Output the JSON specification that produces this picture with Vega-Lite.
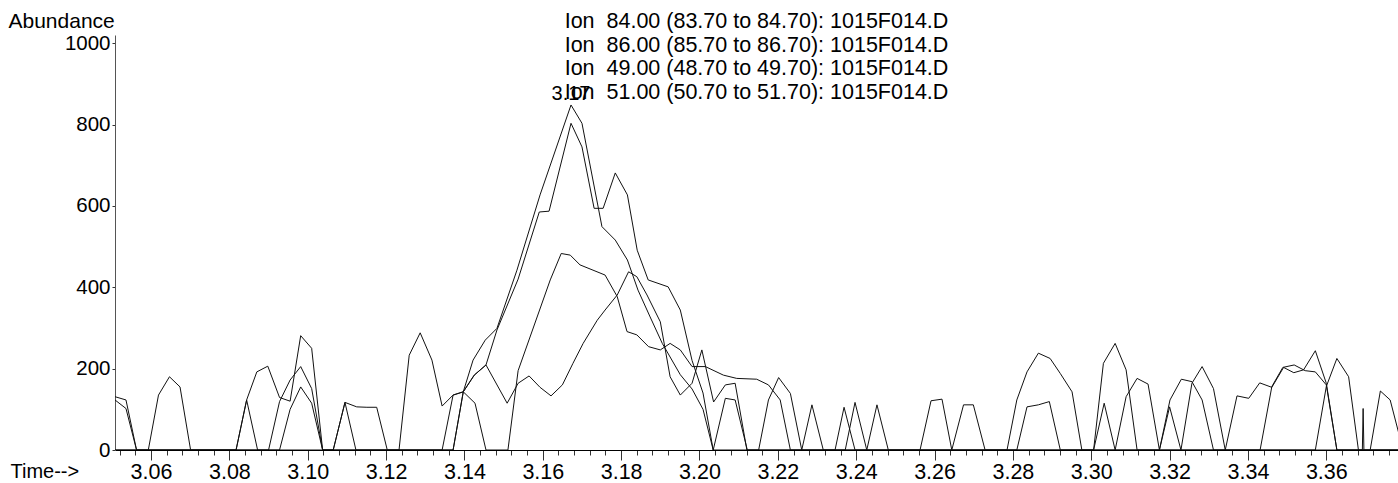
{
  "$schema": "https://vega.github.io/schema/vega-lite/v6.json",
  "autosize": "none",
  "width": 1283,
  "height": 415,
  "padding": {"left": 115, "top": 35, "right": 0, "bottom": 33},
  "background": "white",
  "title": {
    "text": ["Ion\u00a0 84.00 (83.70 to 84.70): 1015F014.D", "Ion\u00a0 86.00 (85.70 to 86.70): 1015F014.D", "Ion\u00a0 49.00 (48.70 to 49.70): 1015F014.D", "Ion\u00a0 51.00 (50.70 to 51.70): 1015F014.D"],
    "anchor": "middle",
    "font": "Liberation Sans",
    "fontSize": 21.5,
    "fontWeight": "normal",
    "color": "#000",
    "lineHeight": 23.5,
    "offset": -93
  },
  "datasets": {
    "traces": [
      {"ion":"84","t":3.0508,"v":131},{"ion":"84","t":3.0536,"v":123},{"ion":"84","t":3.0563,"v":0},{"ion":"84","t":3.0593,"v":0},{"ion":"84","t":3.0619,"v":135},{"ion":"84","t":3.0647,"v":180},{"ion":"84","t":3.0674,"v":155},{"ion":"84","t":3.0701,"v":0},{"ion":"84","t":3.0817,"v":0},{"ion":"84","t":3.0844,"v":123},{"ion":"84","t":3.0872,"v":0},{"ion":"84","t":3.0928,"v":0},{"ion":"84","t":3.0955,"v":100},{"ion":"84","t":3.0982,"v":155},{"ion":"84","t":3.1010,"v":115},{"ion":"84","t":3.1038,"v":0},{"ion":"84","t":3.1065,"v":0},{"ion":"84","t":3.1095,"v":117},{"ion":"84","t":3.1123,"v":0},{"ion":"84","t":3.1343,"v":0},{"ion":"84","t":3.1371,"v":135},{"ion":"84","t":3.1397,"v":143},{"ion":"84","t":3.1422,"v":221},{"ion":"84","t":3.1453,"v":270},{"ion":"84","t":3.1483,"v":299},{"ion":"84","t":3.1534,"v":442},{"ion":"84","t":3.1593,"v":627},{"ion":"84","t":3.1672,"v":848},{"ion":"84","t":3.1700,"v":803},{"ion":"84","t":3.1751,"v":549},{"ion":"84","t":3.1785,"v":516},{"ion":"84","t":3.1816,"v":467},{"ion":"84","t":3.1843,"v":393},{"ion":"84","t":3.1874,"v":327},{"ion":"84","t":3.1905,"v":262},{"ion":"84","t":3.1951,"v":185},{"ion":"84","t":3.1981,"v":150},{"ion":"84","t":3.2009,"v":100},{"ion":"84","t":3.2035,"v":0},{"ion":"84","t":3.2066,"v":127},{"ion":"84","t":3.2091,"v":123},{"ion":"84","t":3.2122,"v":0},{"ion":"84","t":3.2261,"v":0},{"ion":"84","t":3.2287,"v":111},{"ion":"84","t":3.2316,"v":0},{"ion":"84","t":3.2563,"v":0},{"ion":"84","t":3.2591,"v":121},{"ion":"84","t":3.2619,"v":125},{"ion":"84","t":3.2644,"v":0},{"ion":"84","t":3.2785,"v":0},{"ion":"84","t":3.2810,"v":123},{"ion":"84","t":3.2836,"v":192},{"ion":"84","t":3.2865,"v":238},{"ion":"84","t":3.2895,"v":225},{"ion":"84","t":3.2921,"v":188},{"ion":"84","t":3.2951,"v":143},{"ion":"84","t":3.2976,"v":0},{"ion":"84","t":3.3174,"v":0},{"ion":"84","t":3.3200,"v":106},{"ion":"84","t":3.3229,"v":0},{"ion":"84","t":3.3342,"v":0},{"ion":"84","t":3.3372,"v":133},{"ion":"84","t":3.3402,"v":127},{"ion":"84","t":3.3430,"v":165},{"ion":"84","t":3.3461,"v":154},{"ion":"84","t":3.3491,"v":203},{"ion":"84","t":3.3517,"v":190},{"ion":"84","t":3.3542,"v":197},{"ion":"84","t":3.3572,"v":244},{"ion":"84","t":3.3600,"v":164},{"ion":"84","t":3.3627,"v":0},{"ion":"84","t":3.3692,"v":0},{"ion":"84","t":3.3694,"v":102},{"ion":"84","t":3.3696,"v":0},{"ion":"84","t":3.3790,"v":0},

      {"ion":"86","t":3.0508,"v":123},{"ion":"86","t":3.0536,"v":102},{"ion":"86","t":3.0563,"v":0},{"ion":"86","t":3.0817,"v":0},{"ion":"86","t":3.0844,"v":123},{"ion":"86","t":3.0870,"v":192},{"ion":"86","t":3.0898,"v":206},{"ion":"86","t":3.0928,"v":129},{"ion":"86","t":3.0955,"v":120},{"ion":"86","t":3.0982,"v":281},{"ion":"86","t":3.1010,"v":250},{"ion":"86","t":3.1038,"v":0},{"ion":"86","t":3.1065,"v":0},{"ion":"86","t":3.1095,"v":117},{"ion":"86","t":3.1125,"v":106},{"ion":"86","t":3.1151,"v":105},{"ion":"86","t":3.1176,"v":105},{"ion":"86","t":3.1203,"v":0},{"ion":"86","t":3.1371,"v":0},{"ion":"86","t":3.1397,"v":143},{"ion":"86","t":3.1425,"v":184},{"ion":"86","t":3.1455,"v":209},{"ion":"86","t":3.1483,"v":295},{"ion":"86","t":3.1537,"v":420},{"ion":"86","t":3.1591,"v":585},{"ion":"86","t":3.1616,"v":587},{"ion":"86","t":3.1672,"v":803},{"ion":"86","t":3.1700,"v":745},{"ion":"86","t":3.1731,"v":594},{"ion":"86","t":3.1754,"v":594},{"ion":"86","t":3.1785,"v":681},{"ion":"86","t":3.1816,"v":627},{"ion":"86","t":3.1841,"v":491},{"ion":"86","t":3.1869,"v":418},{"ion":"86","t":3.1920,"v":401},{"ion":"86","t":3.1951,"v":344},{"ion":"86","t":3.1981,"v":220},{"ion":"86","t":3.2009,"v":140},{"ion":"86","t":3.2035,"v":0},{"ion":"86","t":3.2151,"v":0},{"ion":"86","t":3.2176,"v":123},{"ion":"86","t":3.2202,"v":178},{"ion":"86","t":3.2232,"v":139},{"ion":"86","t":3.2261,"v":0},{"ion":"86","t":3.2372,"v":0},{"ion":"86","t":3.2397,"v":117},{"ion":"86","t":3.2427,"v":0},{"ion":"86","t":3.2810,"v":0},{"ion":"86","t":3.2836,"v":106},{"ion":"86","t":3.2865,"v":111},{"ion":"86","t":3.2893,"v":119},{"ion":"86","t":3.2921,"v":0},{"ion":"86","t":3.3006,"v":0},{"ion":"86","t":3.3031,"v":213},{"ion":"86","t":3.3061,"v":262},{"ion":"86","t":3.3089,"v":197},{"ion":"86","t":3.3117,"v":0},{"ion":"86","t":3.3174,"v":0},{"ion":"86","t":3.3201,"v":123},{"ion":"86","t":3.3230,"v":174},{"ion":"86","t":3.3257,"v":168},{"ion":"86","t":3.3283,"v":123},{"ion":"86","t":3.3312,"v":0},{"ion":"86","t":3.3431,"v":0},{"ion":"86","t":3.3461,"v":156},{"ion":"86","t":3.3489,"v":203},{"ion":"86","t":3.3518,"v":209},{"ion":"86","t":3.3546,"v":195},{"ion":"86","t":3.3572,"v":192},{"ion":"86","t":3.3600,"v":160},{"ion":"86","t":3.3627,"v":0},{"ion":"86","t":3.3712,"v":0},{"ion":"86","t":3.3738,"v":145},{"ion":"86","t":3.3763,"v":123},{"ion":"86","t":3.3785,"v":41},{"ion":"86","t":3.3800,"v":0},

      {"ion":"49","t":3.0508,"v":0},{"ion":"49","t":3.0900,"v":0},{"ion":"49","t":3.0928,"v":119},{"ion":"49","t":3.0955,"v":172},{"ion":"49","t":3.0982,"v":205},{"ion":"49","t":3.1010,"v":151},{"ion":"49","t":3.1038,"v":0},{"ion":"49","t":3.1233,"v":0},{"ion":"49","t":3.1259,"v":233},{"ion":"49","t":3.1287,"v":288},{"ion":"49","t":3.1317,"v":221},{"ion":"49","t":3.1343,"v":108},{"ion":"49","t":3.1371,"v":135},{"ion":"49","t":3.1397,"v":143},{"ion":"49","t":3.1427,"v":115},{"ion":"49","t":3.1455,"v":0},{"ion":"49","t":3.1511,"v":0},{"ion":"49","t":3.1537,"v":195},{"ion":"49","t":3.1619,"v":418},{"ion":"49","t":3.1647,"v":483},{"ion":"49","t":3.1670,"v":479},{"ion":"49","t":3.1695,"v":455},{"ion":"49","t":3.1759,"v":430},{"ion":"49","t":3.1790,"v":377},{"ion":"49","t":3.1815,"v":291},{"ion":"49","t":3.1840,"v":283},{"ion":"49","t":3.1870,"v":254},{"ion":"49","t":3.1900,"v":246},{"ion":"49","t":3.1925,"v":262},{"ion":"49","t":3.1951,"v":246},{"ion":"49","t":3.1981,"v":205},{"ion":"49","t":3.2015,"v":205},{"ion":"49","t":3.2061,"v":184},{"ion":"49","t":3.2095,"v":176},{"ion":"49","t":3.2146,"v":174},{"ion":"49","t":3.2176,"v":160},{"ion":"49","t":3.2206,"v":123},{"ion":"49","t":3.2232,"v":0},{"ion":"49","t":3.2346,"v":0},{"ion":"49","t":3.2369,"v":105},{"ion":"49","t":3.2397,"v":0},{"ion":"49","t":3.2644,"v":0},{"ion":"49","t":3.2674,"v":111},{"ion":"49","t":3.2699,"v":111},{"ion":"49","t":3.2729,"v":0},{"ion":"49","t":3.3006,"v":0},{"ion":"49","t":3.3033,"v":115},{"ion":"49","t":3.3061,"v":0},{"ion":"49","t":3.3229,"v":0},{"ion":"49","t":3.3257,"v":164},{"ion":"49","t":3.3283,"v":205},{"ion":"49","t":3.3312,"v":151},{"ion":"49","t":3.3342,"v":0},{"ion":"49","t":3.3572,"v":0},{"ion":"49","t":3.3600,"v":156},{"ion":"49","t":3.3627,"v":225},{"ion":"49","t":3.3657,"v":180},{"ion":"49","t":3.3682,"v":0},{"ion":"49","t":3.3790,"v":0},

      {"ion":"51","t":3.0508,"v":0},{"ion":"51","t":3.1371,"v":0},{"ion":"51","t":3.1397,"v":143},{"ion":"51","t":3.1425,"v":184},{"ion":"51","t":3.1455,"v":209},{"ion":"51","t":3.1509,"v":115},{"ion":"51","t":3.1537,"v":164},{"ion":"51","t":3.1565,"v":182},{"ion":"51","t":3.1593,"v":154},{"ion":"51","t":3.1621,"v":133},{"ion":"51","t":3.1650,"v":160},{"ion":"51","t":3.1677,"v":213},{"ion":"51","t":3.1703,"v":262},{"ion":"51","t":3.1739,"v":319},{"ion":"51","t":3.1759,"v":344},{"ion":"51","t":3.1790,"v":381},{"ion":"51","t":3.1819,"v":438},{"ion":"51","t":3.1840,"v":426},{"ion":"51","t":3.1866,"v":381},{"ion":"51","t":3.1900,"v":315},{"ion":"51","t":3.1925,"v":180},{"ion":"51","t":3.1951,"v":135},{"ion":"51","t":3.1981,"v":164},{"ion":"51","t":3.2006,"v":246},{"ion":"51","t":3.2036,"v":118},{"ion":"51","t":3.2066,"v":160},{"ion":"51","t":3.2091,"v":164},{"ion":"51","t":3.2121,"v":0},{"ion":"51","t":3.2427,"v":0},{"ion":"51","t":3.2453,"v":111},{"ion":"51","t":3.2482,"v":0},{"ion":"51","t":3.3061,"v":0},{"ion":"51","t":3.3089,"v":131},{"ion":"51","t":3.3117,"v":176},{"ion":"51","t":3.3145,"v":162},{"ion":"51","t":3.3174,"v":0},{"ion":"51","t":3.3790,"v":0}
    ],
    "peaks": [{"t": 3.1672, "v": 848, "label": "3.17"}]
  },
  "encoding": {
    "x": {
      "field": "t", "type": "quantitative",
      "scale": {"domain": [3.0508, 3.3783], "nice": false, "zero": false},
      "axis": {
        "values": [3.052,3.056,3.060,3.064,3.068,3.072,3.076,3.080,3.084,3.088,3.092,3.096,3.100,3.104,3.108,3.112,3.116,3.120,3.124,3.128,3.132,3.136,3.140,3.144,3.148,3.152,3.156,3.160,3.164,3.168,3.172,3.176,3.180,3.184,3.188,3.192,3.196,3.200,3.204,3.208,3.212,3.216,3.220,3.224,3.228,3.232,3.236,3.240,3.244,3.248,3.252,3.256,3.260,3.264,3.268,3.272,3.276,3.280,3.284,3.288,3.292,3.296,3.300,3.304,3.308,3.312,3.316,3.320,3.324,3.328,3.332,3.336,3.340,3.344,3.348,3.352,3.356,3.360,3.364,3.368,3.372,3.376],
        "labelExpr": "abs(datum.value*50 - round(datum.value*50)) < 0.001 ? format(datum.value, '.2f') : ''",
        "tickSize": {"condition": {"test": "abs(datum.value*50 - round(datum.value*50)) < 0.001", "value": 10}, "value": 5},
        "labelPadding": 1,
        "labelOverlap": false,
        "labelBound": false,
        "labelFlush": false,
        "labelFont": "Liberation Sans",
        "labelFontSize": 21.5,
        "labelColor": "#000",
        "tickColor": "#333",
        "domainColor": "#000",
        "grid": false,
        "title": "Time-->",
        "titleFont": "Liberation Sans",
        "titleFontSize": 20,
        "titleFontWeight": "normal",
        "titleColor": "#000",
        "titleAlign": "left",
        "titleBaseline": "alphabetic",
        "titleX": -105,
        "titleY": 27
      }
    },
    "y": {
      "field": "v", "type": "quantitative",
      "scale": {"domain": [0, 1020], "nice": false},
      "axis": {
        "values": [0, 200, 400, 600, 800, 1000],
        "format": "d",
        "tickSize": 3,
        "labelPadding": 2,
        "labelFont": "Liberation Sans",
        "labelFontSize": 20.5,
        "labelColor": "#000",
        "tickColor": "#333",
        "domainColor": "#555",
        "grid": false,
        "title": "Abundance",
        "titleFont": "Liberation Sans",
        "titleFontSize": 21,
        "titleFontWeight": "normal",
        "titleColor": "#000",
        "titleAngle": 0,
        "titleAlign": "left",
        "titleBaseline": "alphabetic",
        "titleX": -107,
        "titleY": -8
      }
    }
  },
  "layer": [
    {
      "data": {"name": "traces"},
      "mark": {"type": "line", "stroke": "#111", "strokeWidth": 1, "clip": true},
      "encoding": {"detail": {"field": "ion", "type": "nominal"}}
    },
    {
      "data": {"name": "peaks"},
      "mark": {"type": "text", "font": "Liberation Sans", "fontSize": 20, "color": "#000", "align": "center", "baseline": "alphabetic", "dy": -5},
      "encoding": {"text": {"field": "label", "type": "nominal"}}
    }
  ],
  "config": {"view": {"stroke": null}}
}
